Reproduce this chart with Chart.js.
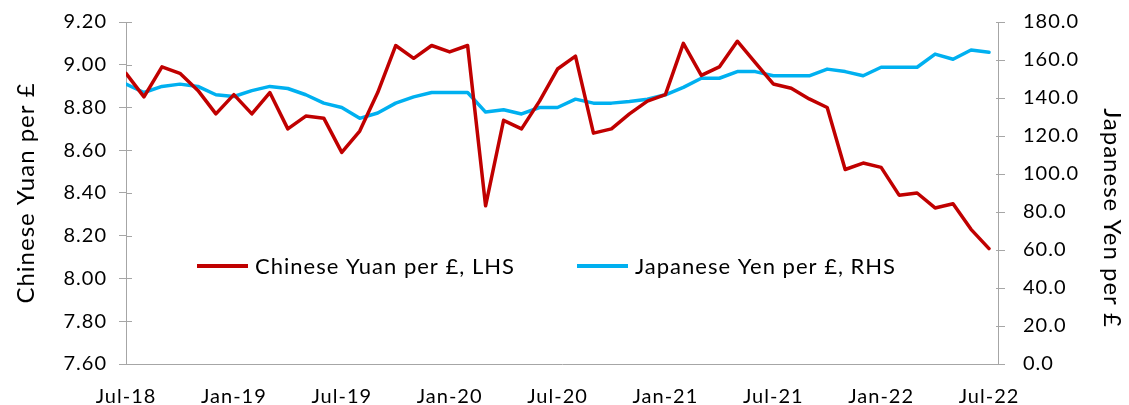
<!DOCTYPE html>
<html>
<head>
<meta charset="utf-8">
<script src="https://cdn.jsdelivr.net/npm/chart.js@4/dist/chart.umd.min.js"></script>
<style>
  html, body { margin: 0; padding: 0; background: #fff; }
</style>
</head>
<body>
<canvas id="chart" width="1129" height="405"></canvas>
<script>
'use strict';

// monthly, Jul-18 .. Jul-22
const months = [
  'Jul-18','Aug-18','Sep-18','Oct-18','Nov-18','Dec-18',
  'Jan-19','Feb-19','Mar-19','Apr-19','May-19','Jun-19',
  'Jul-19','Aug-19','Sep-19','Oct-19','Nov-19','Dec-19',
  'Jan-20','Feb-20','Mar-20','Apr-20','May-20','Jun-20',
  'Jul-20','Aug-20','Sep-20','Oct-20','Nov-20','Dec-20',
  'Jan-21','Feb-21','Mar-21','Apr-21','May-21','Jun-21',
  'Jul-21','Aug-21','Sep-21','Oct-21','Nov-21','Dec-21',
  'Jan-22','Feb-22','Mar-22','Apr-22','May-22','Jun-22',
  'Jul-22'
];

const yuanPerPound = [
  8.96, 8.85, 8.99, 8.96, 8.88, 8.77, 8.86, 8.77, 8.87, 8.70, 8.76, 8.75,
  8.59, 8.69, 8.87, 9.09, 9.03, 9.09, 9.06, 9.09, 8.34, 8.74, 8.70, 8.83,
  8.98, 9.04, 8.68, 8.70, 8.77, 8.83, 8.86, 9.10, 8.95, 8.99, 9.11, 9.01,
  8.91, 8.89, 8.84, 8.80, 8.51, 8.54, 8.52, 8.39, 8.40, 8.33, 8.35, 8.23,
  8.14
];

const yenPerPound = [
  147.3, 142.9, 146.1, 147.3, 146.1, 141.7, 140.8, 143.9, 146.1, 145.0, 141.7, 137.3,
  135.0, 129.3, 132.1, 137.3, 140.6, 142.9, 142.9, 142.9, 132.6, 133.8, 131.6, 135.0,
  135.0, 139.4, 137.3, 137.3, 138.2, 139.4, 141.7, 145.6, 150.4, 150.4, 153.9, 153.9,
  151.7, 151.7, 151.7, 155.2, 153.9, 151.7, 156.2, 156.2, 156.2, 163.1, 160.4, 165.3,
  164.1
];

const seriesLabels = ['Chinese Yuan per £, LHS', 'Japanese Yen per £, RHS'];
const leftTitle = 'Chinese Yuan per £';
const rightTitle = 'Japanese Yen per £';
const leftTicks = [7.6, 7.8, 8.0, 8.2, 8.4, 8.6, 8.8, 9.0, 9.2];
const rightTicks = [0, 20, 40, 60, 80, 100, 120, 140, 160, 180];

const FONT = 'Lato';
const AXIS_GREY = '#a6a6a6';

// the original text is set a little looser than Lato
const spacing = {
  id: 'spacing',
  beforeLayout(chart) { chart.ctx.letterSpacing = '1px'; },
  beforeDraw(chart) { chart.ctx.letterSpacing = '1px'; }
};

// legend sits inside the plot, drawn by hand
const insideLegend = {
  id: 'insideLegend',
  afterDatasetsDraw(chart) {
    const ctx = chart.ctx;
    const starts = [197, 577];
    const y = 266;
    ctx.save();
    ctx.font = '22px ' + FONT;
    ctx.textBaseline = 'middle';
    ctx.fillStyle = '#000';
    chart.data.datasets.forEach((ds, i) => {
      const x = starts[i];
      ctx.strokeStyle = ds.borderColor;
      ctx.lineWidth = 4;
      ctx.beginPath();
      ctx.moveTo(x, y);
      ctx.lineTo(x + 51, y);
      ctx.stroke();
      ctx.fillText(ds.label, x + 58, y + 1);
    });
    ctx.restore();
  }
};

// right-hand title sits lower than centre in the original
const rightAxisTitle = {
  id: 'rightAxisTitle',
  afterDraw(chart) {
    const ctx = chart.ctx;
    ctx.save();
    ctx.font = '24px ' + FONT;
    ctx.fillStyle = '#000';
    ctx.textAlign = 'center';
    ctx.textBaseline = 'middle';
    ctx.translate(1112, 218);
    ctx.rotate(Math.PI / 2);
    ctx.fillText(rightTitle, 0, 0);
    ctx.restore();
  }
};

// small tick stubs poking into the plot area
const innerTicks = {
  id: 'innerTicks',
  afterDraw(chart) {
    const ctx = chart.ctx;
    const {y, y1} = chart.scales;
    ctx.save();
    ctx.strokeStyle = AXIS_GREY;
    ctx.lineWidth = 1;
    y.ticks.forEach(t => {
      const py = Math.round(y.getPixelForValue(t.value)) + 0.5;
      ctx.beginPath(); ctx.moveTo(y.right, py); ctx.lineTo(y.right + 6, py); ctx.stroke();
    });
    y1.ticks.forEach(t => {
      const py = Math.round(y1.getPixelForValue(t.value)) + 0.5;
      ctx.beginPath(); ctx.moveTo(y1.left - 2, py); ctx.lineTo(y1.left, py); ctx.stroke();
    });
    ctx.restore();
  }
};

const ctx = document.getElementById('chart').getContext('2d');

const chart = new Chart(ctx, {
  type: 'line',
  data: {
    datasets: [{
      label: seriesLabels[0],
      data: yuanPerPound.map((v, i) => ({x: i, y: v})),
      borderColor: '#c00000',
      borderWidth: 3.5,
      yAxisID: 'y'
    }, {
      label: seriesLabels[1],
      data: yenPerPound.map((v, i) => ({x: i, y: v})),
      borderColor: '#00b0f0',
      borderWidth: 3.5,
      yAxisID: 'y1'
    }]
  },
  options: {
    responsive: false,
    animation: false,
    layout: { padding: { top: 22, left: 0, right: 0, bottom: 0 } },
    elements: {
      point: { radius: 0 },
      line: { tension: 0, borderJoinStyle: 'round', borderCapStyle: 'round' }
    },
    plugins: {
      legend: { display: false },
      tooltip: { enabled: false }
    },
    scales: {
      x: {
        type: 'linear',
        min: 0,
        max: 48.5,
        grid: { display: false },
        border: { display: true, color: AXIS_GREY, width: 1 },
        ticks: {
          stepSize: 6,
          includeBounds: false,
          autoSkip: false,
          maxRotation: 0,
          padding: 13,
          color: '#000',
          font: { family: FONT, size: 20 },
          callback: v => months[v] || ''
        },
        afterFit: s => { s.height = 41; }
      },
      y: {
        position: 'left',
        min: 7.6,
        max: 9.2,
        afterBuildTicks: s => { s.ticks = leftTicks.map(v => ({value: v})); },
        grid: { drawOnChartArea: false, color: AXIS_GREY, tickLength: 7 },
        border: { color: AXIS_GREY, width: 1 },
        ticks: {
          padding: 12,
          color: '#000',
          font: { family: FONT, size: 20 },
          callback: v => v.toFixed(2)
        },
        title: {
          display: true,
          text: leftTitle,
          color: '#000',
          font: { family: FONT, size: 24 },
          padding: { top: 12, bottom: 0 }
        },
        afterFit: s => { s.width = 126; s.paddingTop = 0; s.paddingBottom = 0; }
      },
      y1: {
        position: 'right',
        min: 0,
        max: 180,
        afterBuildTicks: s => { s.ticks = rightTicks.map(v => ({value: v})); },
        grid: { drawOnChartArea: false, color: AXIS_GREY, tickLength: 7 },
        border: { color: AXIS_GREY, width: 1 },
        ticks: {
          padding: 18,
          color: '#000',
          font: { family: FONT, size: 20 },
          callback: v => v.toFixed(1)
        },
        afterFit: s => { s.width = 131; s.paddingTop = 0; s.paddingBottom = 0; }
      }
    }
  },
  plugins: [spacing, insideLegend, rightAxisTitle, innerTicks]
});
</script>
</body>
</html>
